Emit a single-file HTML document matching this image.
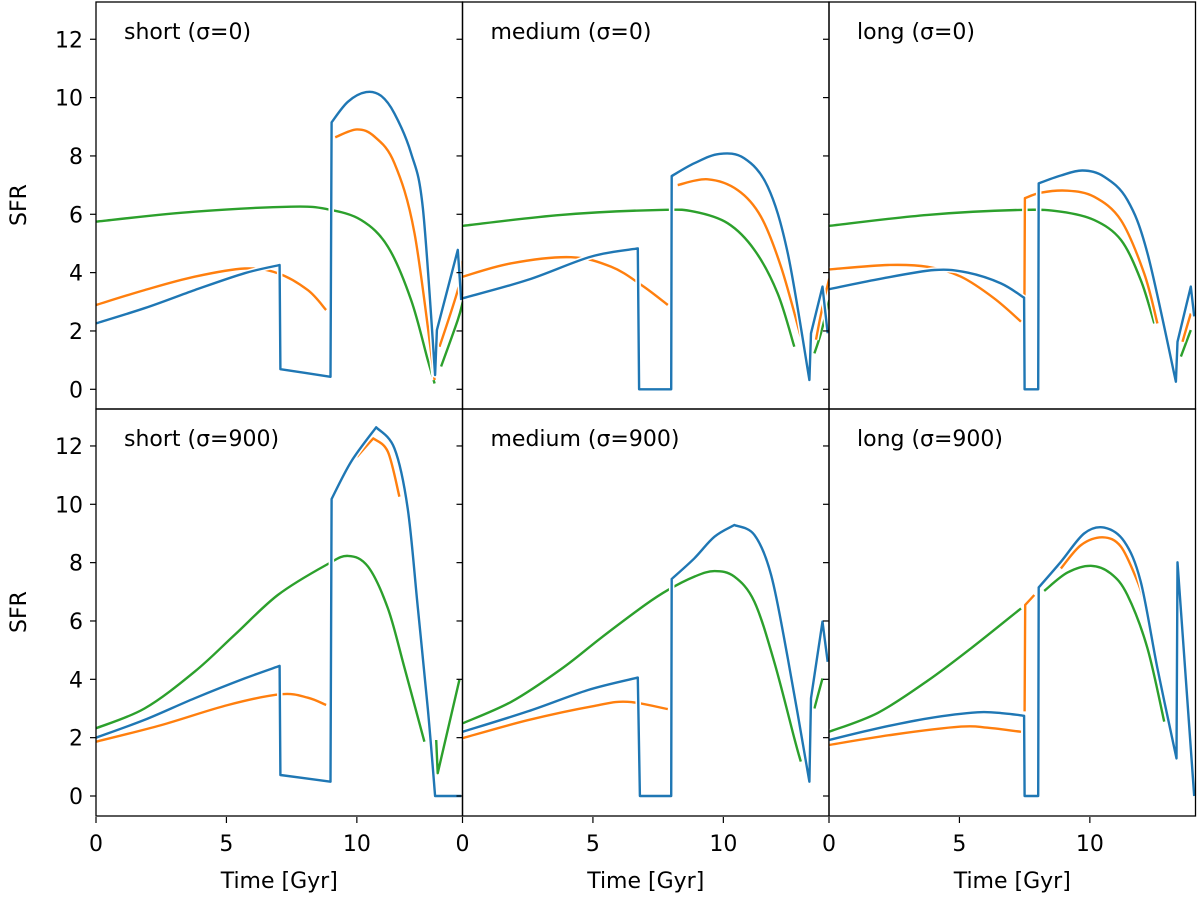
<!DOCTYPE html>
<html><head><meta charset="utf-8">
<style>
body{margin:0;background:#fff;}
svg text{font-family:"DejaVu Sans","Liberation Sans",sans-serif;fill:#000;}
</style></head>
<body>
<svg id="chart" width="1200" height="898" viewBox="0 0 1200 898" xmlns="http://www.w3.org/2000/svg"></svg>
<script>
// Panel titles
const panelTitles = ["short (σ=0)","medium (σ=0)","long (σ=0)","short (σ=900)","medium (σ=900)","long (σ=900)"];
const xTicks = [0,5,10];
const yTicks = [0,2,4,6,8,10,12];
// Series data: [time, SFR] points; null breaks the line
const blue1 = [[0,2.26],[1.86,2.78],[3.78,3.4],[5.7,3.98],[7.04,4.26],[7.07,0.69],[8.99,0.43],[9.03,9.15],[9.66,9.86],[10.36,10.19],[10.93,10.06],[11.44,9.46],[12.08,8.09],[12.53,6.2],[13.0,0.49],[13.07,2.03],[13.87,4.78],[14.0,3.06]];
const orange1 = [[0,2.89],[1.86,3.4],[3.78,3.86],[5.7,4.14],[6.97,3.98],[8.12,3.4],[8.82,2.72],null,[9.17,8.64],[10.0,8.91],[10.68,8.66],[11.44,7.75],[12.21,5.35],[12.98,0.32],null,[13.17,1.46],[13.87,3.4],[14.06,4.4]];
const green1 = [[0,5.75],[3.78,6.09],[7.48,6.26],[8.89,6.17],[10.17,5.8],[11.19,4.89],[12.08,3.06],[12.72,1.0],[12.98,0.2],null,[13.23,0.78],[13.87,2.38],[14.06,3.0]];
const blue2 = [[0,3.12],[2.5,3.75],[4.93,4.55],[6.72,4.83],[6.77,0],[8.0,0],[8.02,7.31],[8.89,7.75],[9.85,8.07],[10.8,7.92],[11.7,6.95],[12.47,4.66],[13.3,0.32],[13.36,1.92],[13.8,3.52],[14.0,1.92]];
const orange2 = [[0,3.86],[1.87,4.32],[4.16,4.53],[5.7,4.2],[6.85,3.58],[7.87,2.89],null,[8.25,7.0],[9.4,7.2],[10.55,6.83],[11.44,5.92],[12.21,4.2],[12.97,1.8],null,[13.55,1.7],[13.8,2.83],[14.06,3.8]];
const green2 = [[0,5.6],[3.78,5.98],[7.61,6.15],[8.89,6.09],[10.17,5.69],[11.19,4.78],[12.08,3.29],[12.72,1.46],null,[13.49,1.23],[13.74,1.92],[14.06,3.06]];
const blue3 = [[0,3.43],[1.87,3.77],[4.04,4.09],[5.31,4.0],[6.59,3.63],[7.48,3.14],[7.5,0],[8.02,0],[8.04,7.06],[8.89,7.33],[9.72,7.5],[10.55,7.29],[11.44,6.49],[12.21,4.66],[13.3,0.26],[13.36,1.63],[13.87,3.52],[14.0,2.5]];
const orange3 = [[0,4.11],[2.25,4.26],[3.78,4.2],[5.06,3.86],[6.33,3.12],[7.36,2.32],null,[7.49,2.8],[7.51,6.55],[8.12,6.74],[9.14,6.81],[10.17,6.6],[11.19,5.8],[12.08,3.98],[12.59,2.26],null,[13.55,1.63],[13.87,2.6]];
const green3 = [[0,5.6],[3.78,5.98],[7.36,6.15],[8.89,6.09],[10.17,5.8],[11.19,5.12],[11.95,3.75],[12.47,2.26],null,[13.49,1.12],[13.87,2.03]];
const blue4 = [[0,2.0],[1.86,2.61],[3.78,3.35],[5.7,4.03],[7.04,4.46],[7.07,0.72],[8.99,0.49],[9.03,10.18],[9.78,11.46],[10.74,12.64],[11.44,11.92],[11.95,9.86],[12.34,6.43],[12.72,3.0],[13.0,0],[14.0,0]];
const orange4 = [[0,1.86],[2.5,2.43],[5.06,3.12],[7.1,3.49],[8.12,3.37],[8.82,3.12],null,[10.0,11.63],[10.63,12.26],[11.19,11.8],[11.63,10.26]];
const green4 = [[0,2.32],[1.86,3.0],[3.78,4.26],[5.31,5.52],[6.97,6.89],[8.82,7.92],[9.66,8.23],[10.43,7.86],[11.19,6.43],[11.83,4.38],[12.59,1.86],null,[13.04,1.92],[13.1,0.78],[13.93,3.98]];
const blue5 = [[0,2.2],[2.5,2.9],[4.8,3.63],[6.72,4.06],[6.8,0],[8.0,0],[8.02,7.44],[8.89,8.15],[9.66,8.89],[10.42,9.29],[11.19,8.95],[11.83,7.58],[12.47,4.72],[13.3,0.49],[13.36,3.35],[13.8,5.98],[14.0,4.6]];
const orange5 = [[0,1.98],[2.5,2.6],[5.06,3.09],[6.33,3.23],[7.87,2.98]];
const green5 = [[0,2.49],[1.87,3.23],[3.78,4.35],[5.31,5.42],[7.0,6.55],[7.87,7.06],[8.89,7.52],[9.66,7.71],[10.42,7.52],[11.19,6.66],[11.95,4.6],[12.72,1.98],[12.97,1.18],null,[13.49,3.0],[13.8,4.03]];
const blue6 = [[0,1.92],[1.87,2.32],[3.78,2.66],[5.69,2.87],[6.72,2.83],[7.48,2.75],[7.5,0],[8.02,0],[8.04,7.15],[8.89,8.03],[9.78,9.0],[10.55,9.2],[11.32,8.72],[11.95,7.35],[12.59,4.38],[13.32,1.29],[13.36,8.01],[14.0,0]];
const orange6 = [[0,1.75],[2.5,2.11],[5.06,2.38],[6.08,2.34],[7.36,2.2],null,[7.5,2.9],[7.52,6.55],[7.87,6.89],null,[8.89,7.8],[9.66,8.6],[10.49,8.87],[11.19,8.55],[11.83,7.35],[12.08,6.66]];
const green6 = [[0,2.2],[1.87,2.85],[3.78,3.95],[5.44,5.06],[7.36,6.43],null,[8.25,7.03],[9.14,7.66],[10.04,7.89],[10.8,7.63],[11.44,6.89],[12.21,5.06],[12.85,2.55]];

const panelSeries = [[green1,orange1,blue1],[green2,orange2,blue2],[green3,orange3,blue3],[green4,orange4,blue4],[green5,orange5,blue5],[green6,orange6,blue6]];
const seriesColors = ["#2ca02c","#ff7f0e","#1f77b4"];
const seriesNames = ["green","orange","blue"];

const NS="http://www.w3.org/2000/svg";
const svg=document.getElementById('chart');
const colX=[96,462.5,829], colW=366.5;
const rowTop=[2,409], rowH=407, zeroY=[389.3,796], perUnit=29.17;
const xMax=14.05;
function mk(tag,attrs,parent){const e=document.createElementNS(NS,tag);for(const k in attrs)e.setAttribute(k,attrs[k]);(parent||svg).appendChild(e);return e;}
function sx(c,t){return colX[c]+t/xMax*colW;}
function sy(r,v){return zeroY[r]-v*perUnit;}
function okSeg(A,B){return Math.abs(B[0]-A[0])>=4;}
function angle(A,B){return Math.atan2(B[1]-A[1],B[0]-A[0]);}
function joinSmooth(A,B,C){ // is point B a smooth joint?
  if(!okSeg(A,B)||!okSeg(B,C))return false;
  let d=Math.abs(angle(A,B)-angle(B,C));
  return d<0.9;
}
function buildPath(pts,c,r){
  const segs=[];let cur=[];
  pts.forEach(p=>{if(!p){if(cur.length)segs.push(cur);cur=[];}else cur.push(p);});
  if(cur.length)segs.push(cur);
  let d='';
  segs.forEach(s=>{
    const P=s.map(p=>[sx(c,p[0]),sy(r,p[1])]);
    d+='M'+P[0][0].toFixed(1)+','+P[0][1].toFixed(1);
    for(let i=0;i<P.length-1;i++){
      const p1=P[i],p2=P[i+1];
      if(!okSeg(p1,p2)){d+='L'+p2[0].toFixed(1)+','+p2[1].toFixed(1);continue;}
      const p0=(i>0&&joinSmooth(P[i-1],p1,p2))?P[i-1]:p1;
      const p3=(i+2<P.length&&joinSmooth(p1,p2,P[i+2]))?P[i+2]:p2;
      const c1=[p1[0]+(p2[0]-p0[0])/6,p1[1]+(p2[1]-p0[1])/6];
      const c2=[p2[0]-(p3[0]-p1[0])/6,p2[1]-(p3[1]-p1[1])/6];
      d+='C'+c1[0].toFixed(1)+','+c1[1].toFixed(1)+' '+c2[0].toFixed(1)+','+c2[1].toFixed(1)+' '+p2[0].toFixed(1)+','+p2[1].toFixed(1);
    }
  });
  return d;
}

for(let p=0;p<6;p++){
  const c=p%3,r=Math.floor(p/3);
  const g=mk('g',{});
  
  
  const cid='clip'+p;
  const cp=mk('clipPath',{id:cid},g);
  mk('rect',{x:colX[c],y:rowTop[r],width:colW,height:rowH},cp);
  const lg=mk('g',{'clip-path':'url(#'+cid+')'},g);
  panelSeries[p].forEach((pts,si)=>{
    const d=buildPath(pts,c,r);
    const h=mk('path',{d:d,fill:'none',stroke:'#fff','stroke-width':5.5,'stroke-linejoin':'round'},lg);
    
    
    const l=mk('path',{d:d,fill:'none',stroke:seriesColors[si],'stroke-width':2.4,'stroke-linejoin':'round'},lg);
    
    
  });
  const fr=mk('rect',{x:colX[c],y:rowTop[r],width:colW,height:rowH,fill:'none',stroke:'#000','stroke-width':1.3},g);
  
  
  yTicks.forEach(v=>{
    mk('line',{x1:colX[c]-6,x2:colX[c],y1:sy(r,v),y2:sy(r,v),stroke:'#000','stroke-width':1.2},g);
    if(c===0){
      const t=mk('text',{x:colX[c]-13,y:sy(r,v)+8,'text-anchor':'end','font-size':22},g);
      t.textContent=v;
      
      
    }
  });
  if(r===1){
    xTicks.forEach(v=>{
      mk('line',{x1:sx(c,v),x2:sx(c,v),y1:817,y2:823,stroke:'#000','stroke-width':1.2},g);
      const t=mk('text',{x:sx(c,v),y:851,'text-anchor':'middle','font-size':22},g);
      t.textContent=v;
      
      
    });
    const xt=mk('text',{x:colX[c]+colW/2,y:888,'text-anchor':'middle','font-size':22},g);
    xt.textContent='Time [Gyr]';
    
    
  }
  const tt=mk('text',{x:colX[c]+28,y:rowTop[r]+37,'font-size':22},g);
  tt.textContent=panelTitles[p];
  
  
}
[205,612].forEach(yc=>{
  const t=mk('text',{x:0,y:0,'text-anchor':'middle','font-size':22,transform:'translate(26,'+yc+') rotate(-90)'});
  t.textContent='SFR';
  
  
});
</script>
</body></html>
